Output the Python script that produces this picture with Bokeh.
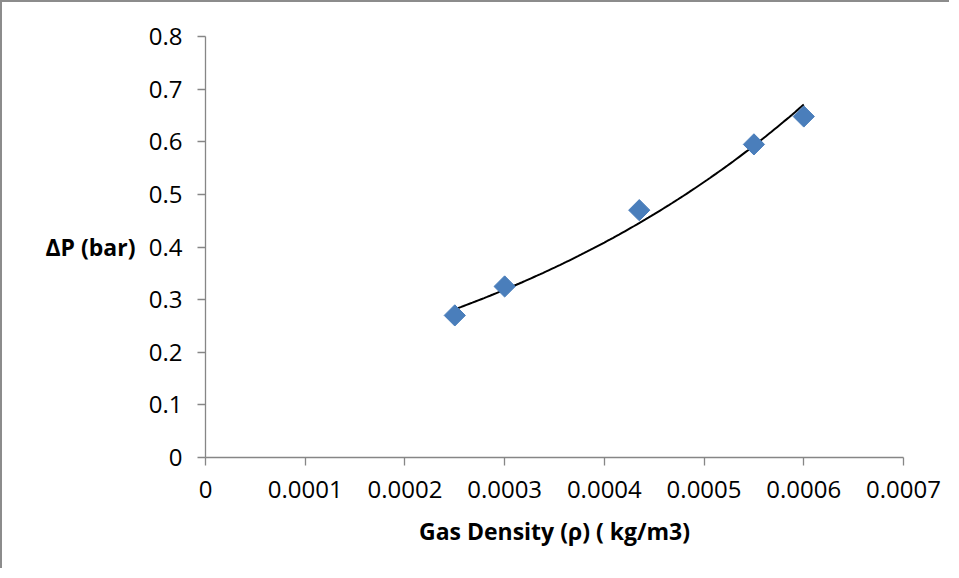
import numpy as np
from bokeh.plotting import figure
from bokeh.models import Range1d, FixedTicker, LinearAxis
from bokeh.embed import file_html
from bokeh.resources import INLINE

# ---- data ----
gas_density = [0.00025, 0.0003, 0.000435, 0.00055, 0.0006]
delta_p = [0.27, 0.325, 0.47, 0.595, 0.648]

x_ticks = [0, 0.0001, 0.0002, 0.0003, 0.0004, 0.0005, 0.0006, 0.0007]
x_tick_labels = ["0", "0.0001", "0.0002", "0.0003", "0.0004", "0.0005", "0.0006", "0.0007"]
y_ticks = [0, 0.1, 0.2, 0.3, 0.4, 0.5, 0.6, 0.7, 0.8]
y_tick_labels = ["0", "0.1", "0.2", "0.3", "0.4", "0.5", "0.6", "0.7", "0.8"]

x_label = "Gas Density (\u03c1) ( kg/m3)"
y_label = "\u0394P (bar)"
y_label_at = 0.4   # the y label sits level with this tick

FONT = "Open Sans"
AXIS_GRAY = "#868686"
MARKER_BLUE = "#4A7EBB"

# exponential trendline (least squares on log y), as a spreadsheet would fit
xs = np.array(gas_density)
ys = np.array(delta_p)
b, ln_a = np.polyfit(xs, np.log(ys), 1)
trend_x = np.linspace(xs.min(), xs.max(), 120)
trend_y = np.exp(ln_a + b * trend_x)

p = figure(
    width=949, height=568,
    output_backend="svg", toolbar_location=None,
    x_range=Range1d(x_ticks[0], x_ticks[-1]),
    y_range=Range1d(y_ticks[0], y_ticks[-1]),
    min_border_left=203, min_border_right=48,
    min_border_top=34, min_border_bottom=113,
    background_fill_color="white", border_fill_color="white",
    styles={"border-left": "2px solid #8c8c8c", "border-top": "2px solid #8c8c8c"},
)
p.outline_line_color = None
p.grid.visible = False

for ax in (p.xaxis[0], p.yaxis[0]):
    ax.axis_line_color = AXIS_GRAY
    ax.axis_line_width = 1.3
    ax.major_tick_line_color = AXIS_GRAY
    ax.major_tick_line_width = 1.3
    ax.major_tick_in = 0
    ax.major_tick_out = 8
    ax.minor_tick_line_color = None
    ax.major_label_text_font = FONT
    ax.major_label_text_font_size = "24px"
    ax.major_label_text_color = "#000000"
    ax.major_label_standoff = 15

p.xaxis.ticker = FixedTicker(ticks=x_ticks)
p.xaxis.major_label_overrides = dict(zip(x_ticks, x_tick_labels))
p.yaxis.ticker = FixedTicker(ticks=y_ticks)
p.yaxis.major_label_overrides = dict(zip(y_ticks, y_tick_labels))

p.xaxis.axis_label = x_label
p.xaxis.axis_label_text_font = FONT
p.xaxis.axis_label_text_font_style = "bold"
p.xaxis.axis_label_text_font_size = "23px"
p.xaxis.axis_label_text_color = "#000000"
p.xaxis.axis_label_standoff = 14

# horizontal y-axis title beside the 0.4 tick: a second, bare left axis
ylab_axis = LinearAxis(
    ticker=FixedTicker(ticks=[y_label_at]),
    major_label_overrides={y_label_at: y_label},
    axis_line_color=None, major_tick_line_color=None, minor_tick_line_color=None,
    major_tick_in=0, major_tick_out=0, major_label_standoff=10,
    major_label_text_font=FONT, major_label_text_font_style="bold",
    major_label_text_font_size="23px", major_label_text_color="#000000",
)
p.add_layout(ylab_axis, "left")

# trendline
p.line(trend_x, trend_y, line_color="#000000", line_width=2)

# data markers (diamonds)
p.scatter(gas_density, delta_p, marker="square", size=15, angle=np.pi / 4,
          fill_color=MARKER_BLUE, line_color=MARKER_BLUE)

open("out.html", "w").write(file_html(p, INLINE))
